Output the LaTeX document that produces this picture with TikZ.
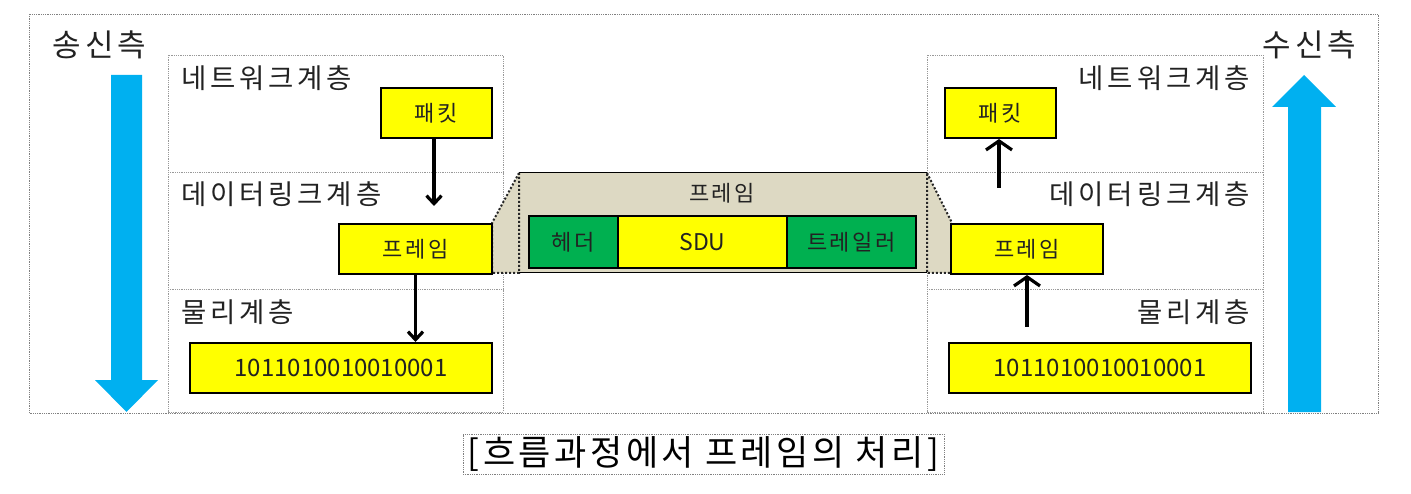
\documentclass[tikz,border=0pt]{standalone}
\usepackage{fontspec}
\setmainfont{Noto Sans CJK KR}
\newfontfamily\klay[LetterSpace=14]{Noto Sans CJK KR}
\newfontfamily\kbox[LetterSpace=12]{Noto Sans CJK KR}
\newfontfamily\kside[LetterSpace=14]{Noto Sans CJK KR}
\newfontfamily\kcap[LetterSpace=10]{Noto Sans CJK KR}
\usetikzlibrary{arrows.meta,calc}
\definecolor{skyb}{HTML}{00B0F0}
\definecolor{tan}{HTML}{DDD9C3}
\definecolor{grn}{HTML}{00B050}
\definecolor{yel}{HTML}{FFFF00}
\definecolor{txt}{HTML}{222222}
\tikzset{
  ybox/.style={draw=black,line width=2pt,fill=yel,inner sep=0pt,text=txt,font=\kbox\fontsize{22}{24}\selectfont},
  gbox/.style={draw=black,line width=2pt,fill=grn,inner sep=0pt,text=txt,font=\kbox\fontsize{22}{24}\selectfont},
  bits/.style={font=\fontsize{24}{26}\selectfont},
  layer/.style={inner sep=0pt,text=txt,font=\klay\fontsize{27.5}{30}\selectfont},
  side/.style={inner sep=0pt,text=txt,font=\kside\fontsize{31}{34}\selectfont},
  panel/.style={draw=gray!80,line width=0.8pt,densely dotted},
  arrdn/.style={line width=3.2pt,-{Straight Barb[length=8pt,width=15pt]}},
  arrup/.style={line width=3.2pt,-{Straight Barb[length=9pt,width=26pt]}},
  trapdot/.style={draw=black!85,line width=2pt,dotted},
}
\begin{document}
\begin{tikzpicture}[x=1pt,y=-1pt]
\useasboundingbox (0,0) rectangle (1411,494);
% outer dotted frame
\draw[gray,line width=0.8pt,densely dotted] (29,14) rectangle (1378,413);
% side arrows
\fill[skyb] (111,75) -- (142,75) -- (142,380) -- (158,380) -- (126.5,412) -- (95,380) -- (111,380) -- cycle;
\fill[skyb] (1288,412) -- (1321,412) -- (1321,107) -- (1336,107) -- (1304,75) -- (1272,107) -- (1288,107) -- cycle;
\node[side,anchor=west] (snd) at (52,45) {송신측};
\node[side,anchor=west] (rcv) at (1262,45) {수신측};
% panels
\draw[panel] (168,55) rectangle (503,412);
\draw[panel] (168,172) -- (503,172);
\draw[panel] (168,289) -- (503,289);
\draw[panel] (927,55) rectangle (1263,412);
\draw[panel] (927,172) -- (1263,172);
\draw[panel] (927,289) -- (1263,289);
% layer labels
\node[layer,anchor=west] (ln) at (181,78) {네트워크계층};
\node[layer,anchor=west] (ld) at (181,194) {데이터링크계층};
\node[layer,anchor=west] (lph) at (181,312) {물리계층};
\node[layer,anchor=east] (rn) at (1250,78) {네트워크계층};
\node[layer,anchor=east] (rd) at (1250,194) {데이터링크계층};
\node[layer,anchor=east] (rph) at (1250,312) {물리계층};
% middle frame
\fill[tan] (519,173) -- (927,173) -- (952,223) -- (952,273) -- (492,273) -- (492,223) -- cycle;
\draw[black,line width=1pt] (519,173) -- (927,173);
\draw[black,line width=1pt] (519,273) -- (927,273);
\draw[trapdot] (519,173) -- (492,223) -- (492,273) -- (519,273) -- cycle;
\draw[trapdot] (927,173) -- (952,223) -- (952,273) -- (927,273) -- cycle;
\node[inner sep=0pt,text=txt,font=\kbox\fontsize{22}{24}\selectfont] (mf) at (722,193) {프레임};
\node[gbox,minimum width=89pt,minimum height=52pt] (hd) at (573.5,242) {헤더};
\node[ybox,minimum width=169pt,minimum height=52pt,font=\fontsize{23}{25}\selectfont] (sdu) at (702.5,242) {SDU};
\node[gbox,minimum width=129pt,minimum height=52pt] (tr) at (851.5,242) {트레일러};
% left boxes
\node[ybox,minimum width=111pt,minimum height=50pt] (lp) at (436.5,113) {패킷};
\node[ybox,minimum width=153pt,minimum height=50pt] (lf) at (415.5,249) {프레임};
\node[ybox,minimum width=302pt,minimum height=50pt,bits] (lb) at (341,368) {1011010010010001};
% right boxes
\node[ybox,minimum width=111pt,minimum height=50pt] (rp) at (1000.5,113) {패킷};
\node[ybox,minimum width=152pt,minimum height=50pt] (rf) at (1027,249) {프레임};
\node[ybox,minimum width=302pt,minimum height=50pt,bits] (rb) at (1100,368) {1011010010010001};
% arrows
\coordinate (e1) at (434,206);
\draw[arrdn] (lp.south -| e1) -- (e1);
\draw[arrdn] (lf.south) -- (lf.south |- lb.north);
\coordinate (s1) at (999,188);
\draw[arrup] (s1) -- (s1 |- rp.south);
\coordinate (s2) at (1027,327);
\draw[arrup] (s2) -- (s2 |- rf.south);
% caption
\node[draw=gray,line width=0.8pt,densely dotted,minimum width=481pt,minimum height=40pt,inner sep=0pt,text=black,font=\kcap\fontsize{35}{38}\selectfont] (cap) at (703.5,454) {[흐름과정에서 프레임의 처리]};
\end{tikzpicture}
\end{document}
